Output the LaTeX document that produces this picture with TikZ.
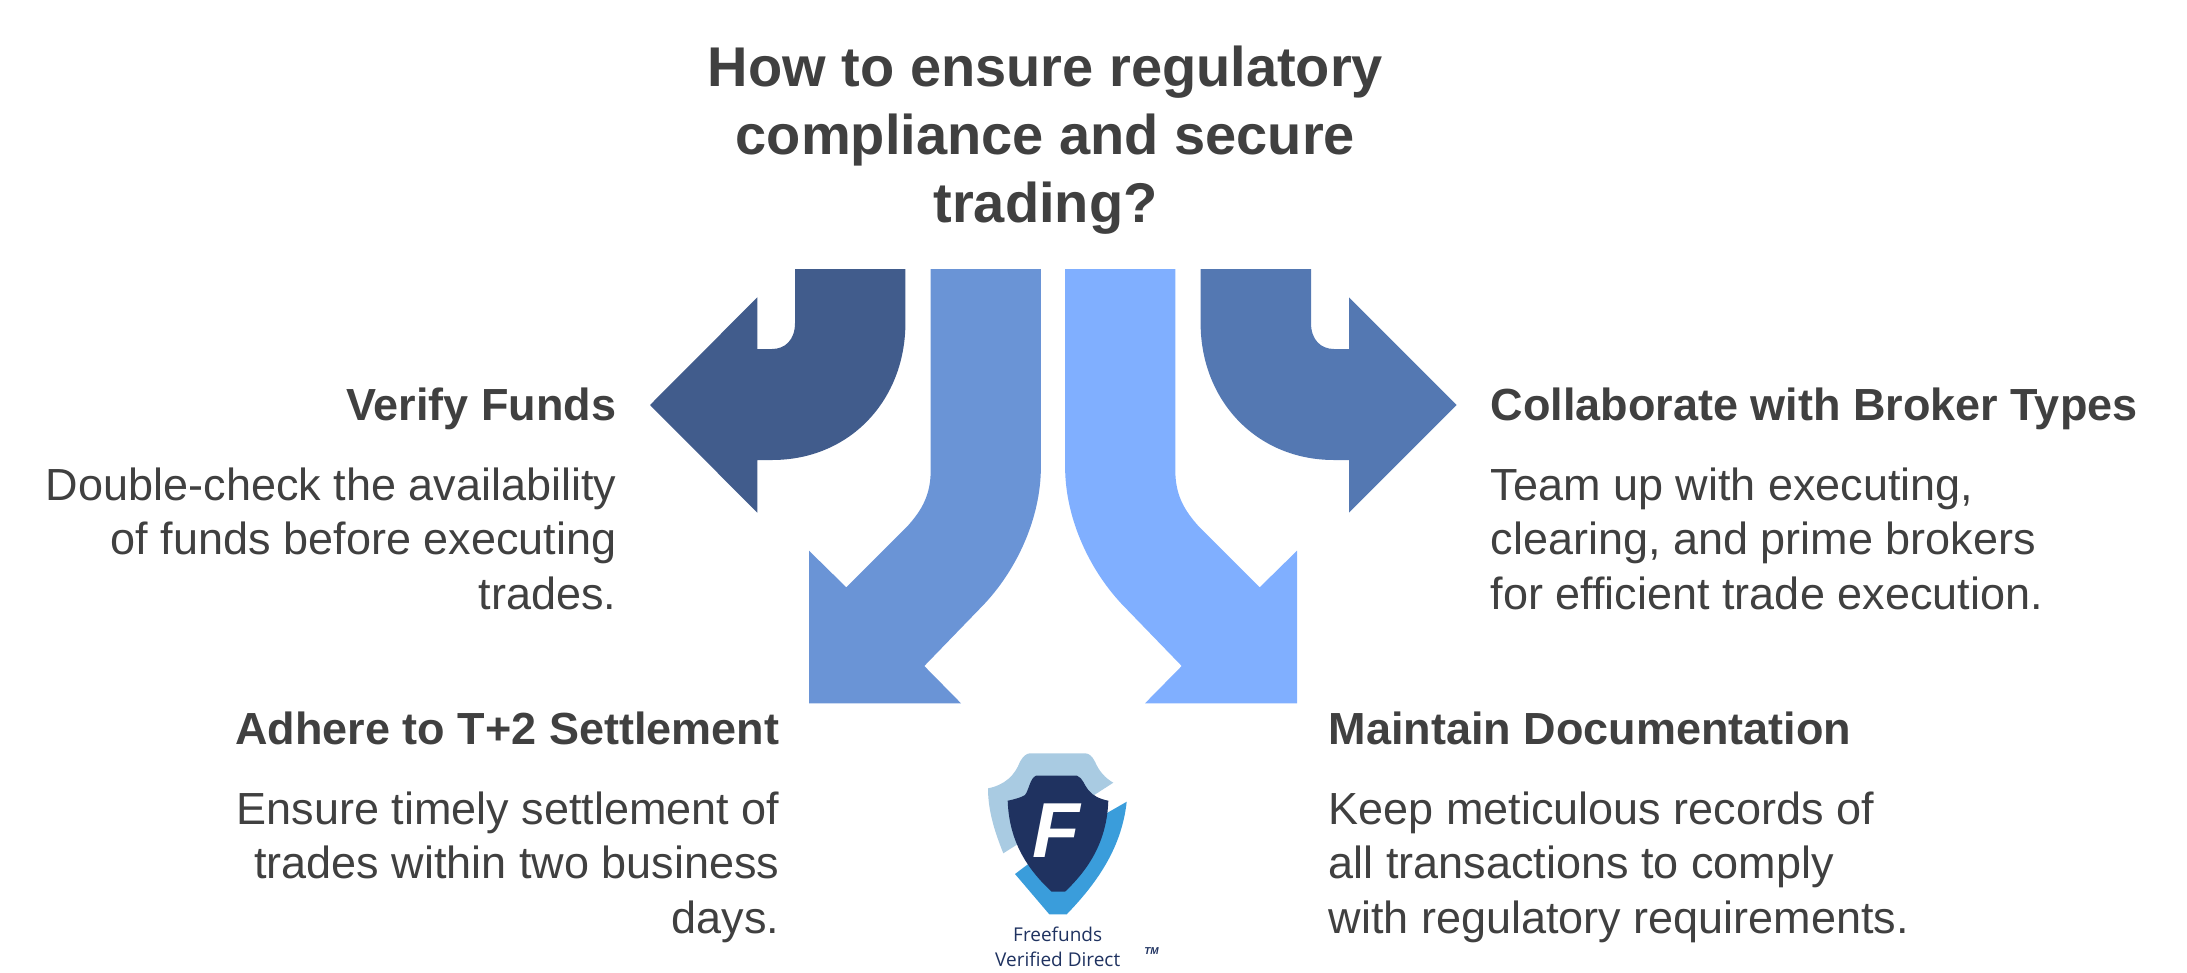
\documentclass[tikz,border=0pt]{standalone}
\usepackage{fontspec}
\setmainfont{Liberation Sans}
\newfontfamily\logofont{Open Sans}
\usetikzlibrary{positioning}
\definecolor{textgray}{HTML}{404040}
\definecolor{arrowA}{HTML}{415C8C}
\definecolor{arrowB}{HTML}{6A94D6}
\definecolor{arrowC}{HTML}{80AFFF}
\definecolor{arrowD}{HTML}{5478B2}
\definecolor{logoL}{HTML}{A9CBE2}
\definecolor{logoB}{HTML}{3A9DDB}
\definecolor{logoN}{HTML}{1F3260}

\begin{document}
\begin{tikzpicture}[x=1pt,y=-1pt,inner sep=0pt,text=textgray,
		titletext/.style={align=center,font=\fontsize{56}{68}\selectfont\bfseries},
		headtext/.style={font=\fontsize{45}{54.4}\selectfont\bfseries,text depth=10pt},
		bodytext/.style={font=\fontsize{45}{54.4}\selectfont},
		logotext/.style={text=logoN,font=\logofont\fontsize{19}{25}\selectfont}]
	\useasboundingbox (0,0) rectangle (2187,972);
	\node[titletext,anchor=north] (title) at (1045.5,46) {How to ensure regulatory\\compliance and secure\\trading?};
	% arrows
	\fill[arrowA] (795,269) -- (795,323) .. controls (795,340) and (785,349) .. (772,349) -- (757.3,349) -- (757.3,297.3) -- (650,405) -- (757.3,512.7) -- (757.3,460) -- (772,460) .. controls (850,460) and (905.4,400) .. (905.4,323) -- (905.4,269) -- cycle;
	\fill[arrowB] (930.7,269) -- (1040.9,269) -- (1040.9,466.7) .. controls (1040.9,520) and (1015,572.7) .. (981.7,606.7) -- (924.3,666) -- (961,703.3) -- (809,703.3) -- (809,550.7) -- (846.3,587.3) -- (907,526.7) .. controls (922,510) and (930.7,495) .. (930.7,470) -- cycle;
	\fill[arrowC] (1175.3,269) -- (1065.1,269) -- (1065.1,466.7) .. controls (1065.1,520) and (1091,572.7) .. (1124.3,606.7) -- (1181.7,666) -- (1145,703.3) -- (1297,703.3) -- (1297,550.7) -- (1259.7,587.3) -- (1199,526.7) .. controls (1184,510) and (1175.3,495) .. (1175.3,470) -- cycle;
	\fill[arrowD] (1311,269) -- (1311,323) .. controls (1311,340) and (1321,349) .. (1334,349) -- (1349,349) -- (1349,297.3) -- (1456.5,405) -- (1349,512.7) -- (1349,460) -- (1334,460) .. controls (1256,460) and (1200.6,400) .. (1200.6,323) -- (1200.6,269) -- cycle;
	% labels
	\node[headtext,anchor=base east] (verify) at (616.5,420) {Verify Funds};
	\node[bodytext,align=right,below left=37.5pt and 0pt of verify.south east] (verifytext) {Double-check the availability\\of funds before executing\\trades.};
	\node[headtext,anchor=base west] (broker) at (1490.5,420) {Collaborate with Broker Types};
	\node[bodytext,align=left,below right=37.5pt and 0pt of broker.south west] (brokertext) {Team up with executing,\\clearing, and prime brokers\\for efficient trade execution.};
	\node[headtext,anchor=base east] (settle) at (779.5,744) {Adhere to T+2 Settlement};
	\node[bodytext,align=right,below left=37.5pt and 0pt of settle.south east] (settletext) {Ensure timely settlement of\\trades within two business\\days.};
	\node[headtext,anchor=base west] (docs) at (1328.5,744) {Maintain Documentation};
	\node[bodytext,align=left,below right=37.5pt and 0pt of docs.south west] (docstext) {Keep meticulous records of\\all transactions to comply\\with regulatory requirements.};
	% logo
	\fill[logoL] (988,788.3) .. controls (1005,785) and (1015,775) .. (1020,761.7) .. controls (1023,756) and (1027,753.3) .. (1030,753.3) -- (1085,753.3) .. controls (1089,753.3) and (1092,756) .. (1095,761.7) .. controls (1099,771) and (1105,778) .. (1113.3,782.7) -- (1040,830) -- (1003.3,853.3) .. controls (994,830) and (988,810) .. (988,788.3) -- cycle;
	\fill[logoB] (1015,874) -- (1049.3,914.3) -- (1066.7,914.3) .. controls (1100,880) and (1122,845) .. (1126.7,801.7) -- (1060,840) -- cycle;
	\fill[logoN] (1007.7,800.7) .. controls (1016,799) and (1022,797) .. (1025,795) .. controls (1029,790) and (1030,778) .. (1036,775.7) -- (1077,775.7) .. controls (1083,778) and (1084,785) .. (1088.3,790) .. controls (1093,796) and (1100,799) .. (1108.3,800.7) .. controls (1107,840) and (1090,868) .. (1065,891.7) -- (1051.7,891.7) .. controls (1026,868) and (1009,840) .. (1007.7,800.7) -- cycle;
	\node[anchor=base west,text=white,font=\fontsize{78}{78}\selectfont\bfseries\itshape] (logoletter) at (1032,857.3) {F};
	\node[logotext,anchor=base] (logoname) at (1057.7,941.5) {Freefunds};
	\node[logotext,anchor=base] (logosub) at (1057.7,966) {Verified Direct};
	\node[text=logoN,anchor=base,font=\fontsize{10}{10}\selectfont\bfseries\itshape] (logotm) at (1151.5,954.5) {TM};
\end{tikzpicture}
\end{document}
